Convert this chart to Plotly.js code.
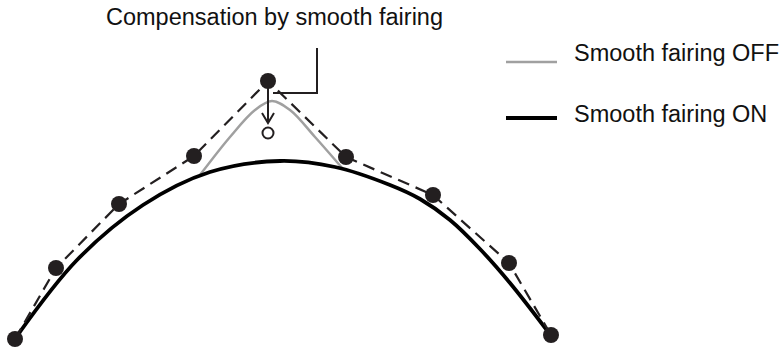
<!DOCTYPE html>
<html><head><meta charset="utf-8">
<script src="https://cdn.plot.ly/plotly-3.0.1.min.js"></script>
<style>html,body{margin:0;padding:0;background:#fff}#c{width:779px;height:353px}</style>
</head><body><div id="c"></div>
<script>
// Control points (diagram units: x right, y down)
const ctrlX = [15, 56, 119, 194, 268, 346, 433, 509, 551];
const ctrlY = [339, 268, 204, 156, 81, 157, 195, 263, 335];
// Smooth fairing ON curve
const onX = [17, 77, 143, 210, 280, 335, 390, 420, 450, 480, 510, 549];
const onY = [336, 260, 205, 172, 161, 167, 185, 199, 220, 249, 283, 333];
// Smooth fairing OFF bump (merges with ON curve elsewhere)
const offX = [200, 230, 255, 272, 290, 315, 343];
const offY = [175, 137, 110, 101, 110, 137, 169];
// Compensation arrow (shaft + open head) and compensated point
const arrowX = [268, 268, null, 262, 268, 274];
const arrowY = [84, 123, null, 113, 123, 113];
const compX = [268];
const compY = [133];
// Callout leader
const calloutX = [273, 317, 317];
const calloutY = [93, 93, 48];
// Texts
const titleText = 'Compensation by smooth fairing';
const legendNames = ['Smooth fairing OFF', 'Smooth fairing ON'];

const dark = '#231f20';
const traces = [
  {x: offX, y: offY, mode: 'lines', line: {color: '#a0a0a0', width: 2.5, shape: 'spline'}, hoverinfo: 'skip'},
  {x: onX, y: onY, mode: 'lines', line: {color: '#000', width: 3.8, shape: 'spline', smoothing: 1}, hoverinfo: 'skip'},
  {x: ctrlX, y: ctrlY, mode: 'lines+markers', line: {color: dark, width: 2.2, dash: '12px,7px'},
   marker: {color: dark, size: 16}, hoverinfo: 'skip'},
  {x: arrowX, y: arrowY, mode: 'lines', line: {color: dark, width: 2}, hoverinfo: 'skip'},
  {x: compX, y: compY, mode: 'markers', marker: {symbol: 'circle-open', color: dark, size: 11, line: {width: 2, color: dark}}, hoverinfo: 'skip'},
  {x: calloutX, y: calloutY, mode: 'lines', line: {color: dark, width: 2}, hoverinfo: 'skip'}
];
const font = {family: 'Liberation Sans, Arial, sans-serif', size: 23.5, color: '#111'};
const layout = {
  width: 779, height: 353, margin: {l: 0, r: 0, t: 0, b: 0},
  paper_bgcolor: '#fff', plot_bgcolor: '#fff', showlegend: false,
  xaxis: {range: [0, 779], visible: false, fixedrange: true},
  yaxis: {range: [353, 0], visible: false, fixedrange: true},
  shapes: [
    {type: 'line', xref: 'x', yref: 'y', x0: 506, x1: 557, y0: 62, y1: 62, line: {color: '#a0a0a0', width: 2.5}},
    {type: 'line', xref: 'x', yref: 'y', x0: 506, x1: 557, y0: 118, y1: 118, line: {color: '#000', width: 4}}
  ],
  annotations: [
    {x: 274, y: 17, xref: 'x', yref: 'y', text: titleText, showarrow: false, font: font, xanchor: 'center', yanchor: 'middle'},
    {x: 572, y: 53, xref: 'x', yref: 'y', text: legendNames[0], showarrow: false, font: font, xanchor: 'left', yanchor: 'middle'},
    {x: 572, y: 114, xref: 'x', yref: 'y', text: legendNames[1], showarrow: false, font: font, xanchor: 'left', yanchor: 'middle'}
  ]
};
Plotly.newPlot('c', traces, layout, {staticPlot: true});
</script></body></html>
